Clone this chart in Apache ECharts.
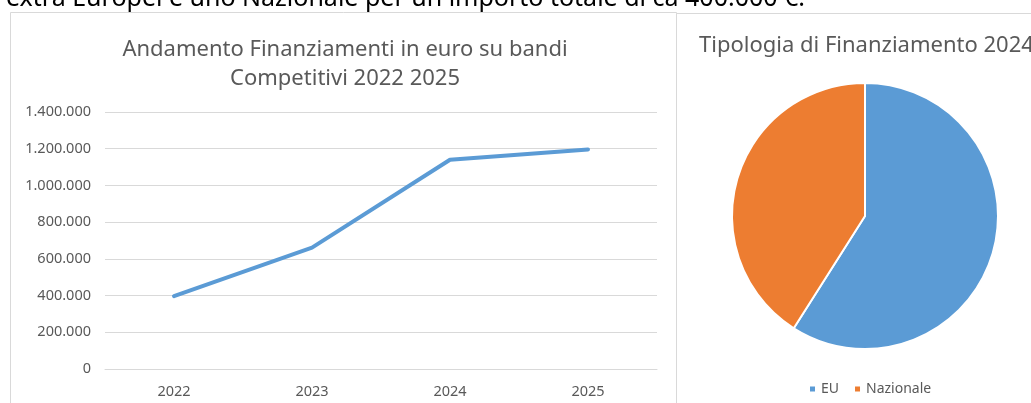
<!DOCTYPE html>
<html>
<head>
<meta charset="utf-8">
<script src="https://cdn.jsdelivr.net/npm/echarts@6/dist/echarts.min.js"></script>
<style>
  html, body { margin: 0; padding: 0; background: #fff; }
  #chart { width: 1031px; height: 403px; }
</style>
</head>
<body>
<div id="chart"></div>
<script>
// dati
var anni = ["2022", "2023", "2024", "2025"];
var finanziamenti = [397000, 661000, 1140000, 1196000];
var tipologie = ["EU", "Nazionale"];
var quote = [59, 41];
var yTicks = [0, 200000, 400000, 600000, 800000, 1000000, 1200000, 1400000];

var testoSopra = "extra Europei e uno Nazionale per un importo totale di ca 400.000 €.";
var grigio = "#595959";
var font = "'Noto Sans', 'Open Sans', sans-serif";

function formatIt(v) {
  return String(v).replace(/\B(?=(\d{3})+(?!\d))/g, ".");
}

var chart = echarts.init(document.getElementById("chart"));
var option = {
  animation: false,
  textStyle: { fontFamily: font },
  title: [
    {
      text: "Andamento Finanziamenti in euro su bandi\nCompetitivi 2022 2025",
      left: 340,
      top: 30,
      textAlign: "center",
      textStyle: { color: grigio, fontSize: 22, fontWeight: "normal", lineHeight: 29, fontFamily: font }
    },
    {
      text: "Tipologia di Finanziamento 2024",
      left: 694,
      top: 30,
      textStyle: { color: grigio, fontSize: 22, fontWeight: "normal", fontFamily: font }
    }
  ],
  legend: {
    data: tipologie,
    left: 803,
    top: 377,
    icon: "rect",
    itemWidth: 7,
    itemHeight: 7,
    itemGap: 14,
    textStyle: { color: grigio, fontSize: 14 }
  },
  grid: { left: 105, right: 374, top: 112, bottom: 34 },
  xAxis: {
    type: "category",
    data: anni,
    boundaryGap: true,
    axisLine: { lineStyle: { color: "#d9d9d9", width: 1 } },
    axisTick: { show: false },
    axisLabel: { color: grigio, fontSize: 14.5, margin: 15 }
  },
  yAxis: {
    type: "value",
    min: 0,
    max: yTicks[yTicks.length - 1],
    interval: yTicks[1] - yTicks[0],
    axisLine: { show: false },
    axisTick: { show: false },
    axisLabel: { color: grigio, fontSize: 14.5, margin: 14, formatter: formatIt },
    splitLine: { lineStyle: { color: "#d9d9d9", width: 1 } }
  },
  series: [
    {
      name: "Finanziamenti",
      type: "line",
      data: finanziamenti,
      showSymbol: false,
      lineStyle: { color: "#5b9bd5", width: 4, cap: "round" }
    },
    {
      name: "Tipologia",
      type: "pie",
      center: [865, 216],
      radius: 133,
      startAngle: 90,
      clockwise: true,
      label: { show: false },
      labelLine: { show: false },
      itemStyle: { borderColor: "#fff", borderWidth: 2 },
      data: tipologie.map(function (t, i) {
        return { name: t, value: quote[i], itemStyle: { color: ["#5b9bd5", "#ed7d31"][i] } };
      })
    }
  ],
  graphic: [
    {
      type: "text",
      x: 6,
      y: 11,
      style: { text: testoSopra, fill: "#000", font: "25px " + font, verticalAlign: "bottom" }
    },
    {
      type: "rect",
      shape: { x: 10.5, y: 12.5, width: 666, height: 400 },
      style: { fill: "#fff", stroke: "#d9d9d9", lineWidth: 1 },
      z: -1
    },
    {
      type: "rect",
      shape: { x: 676.5, y: 13.5, width: 400, height: 400 },
      style: { fill: "#fff", stroke: "#d9d9d9", lineWidth: 1 },
      z: -1
    }
  ]
};
chart.setOption(option);
</script>
</body>
</html>
